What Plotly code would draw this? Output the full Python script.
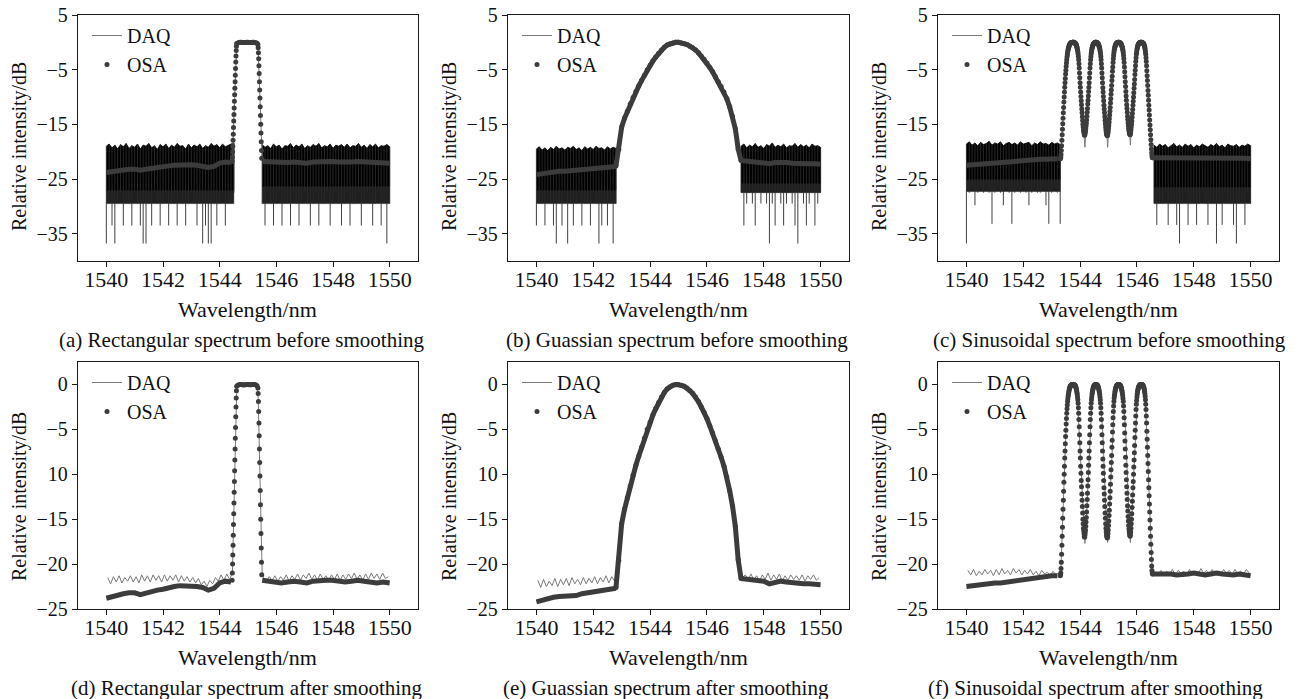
import numpy as np
import plotly.graph_objects as go

W, H = 1305, 699
FONT = "Liberation Serif, Times New Roman, serif"
OSA_COLOR = "#3c3c3c"
DAQ_COLOR = "#7a7a7a"

# ---------------- axes ----------------
X_RANGE = [1539, 1551]
X_TICKS = [1540, 1542, 1544, 1546, 1548, 1550]
TOP_Y_RANGE = [-40, 5]
TOP_Y_TICKS = [5, -5, -15, -25, -35]
TOP_Y_TEXT = ["5", "−5", "−15", "−25", "−35"]
BOT_Y_RANGE = [-25, 2.5]
BOT_Y_TICKS = [0, -5, -10, -15, -20, -25]
BOT_Y_TEXT = ["0", "−5", "10", "−15", "−20", "−25"]

CAPTIONS = [
    "(a) Rectangular spectrum before smoothing",
    "(b) Guassian spectrum before smoothing",
    "(c) Sinusoidal spectrum before smoothing",
    "(d) Rectangular spectrum after smoothing",
    "(e) Guassian spectrum after smoothing",
    "(f) Sinusoidal spectrum after smoothing",
]

# ---------------- rectangular spectrum ----------------
RECT_OSA_BASE_L_SPAN = (1540.0, 1544.4)
RECT_OSA_BASE_L = [-23.8, -23.6, -23.4, -23.3, -23.2, -23.2, -23.4, -23.2, -23.0, -22.9,
                   -22.8, -22.6, -22.5, -22.4, -22.4, -22.4, -22.5, -22.6, -22.9, -22.7,
                   -22.1, -21.9, -22.0]
RECT_OSA_EDGE_L_SPAN = (1544.44, 1544.60)
RECT_OSA_EDGE_L = [-21.8, -21.0, -20.0, -19.0, -17.9, -16.8, -15.6, -14.4, -13.2, -12.0,
                   -10.8, -9.6, -8.4, -7.2, -6.0, -4.8, -3.6, -2.5, -1.5, -0.7, -0.2]
RECT_OSA_TOP_SPAN = (1544.64, 1545.32)
RECT_OSA_TOP = [-0.1, -0.02, 0.0, 0.0, -0.03, -0.05, -0.04, -0.02, 0.0, 0.0,
                -0.02, -0.04, -0.03, 0.0, 0.0, -0.01, -0.06, -0.15]
RECT_OSA_EDGE_R_SPAN = (1545.35, 1545.485)
RECT_OSA_EDGE_R = [-0.4, -1.0, -1.9, -3.0, -4.3, -5.7, -7.2, -8.7, -10.2, -11.8,
                   -13.4, -15.0, -16.6, -18.2, -19.8, -21.2]
RECT_OSA_BASE_R_SPAN = (1545.5, 1550.0)
RECT_OSA_BASE_R = [-21.8, -21.9, -22.0, -22.1, -22.0, -21.9, -22.0, -22.1, -21.9, -21.8,
                   -21.8, -21.8, -21.9, -22.0, -21.9, -21.8, -21.9, -22.0, -22.1, -22.0, -22.1]

RECT_DAQ_CORE_X = [1544.35, 1544.45, 1544.50, 1544.55, 1544.60, 1544.65, 1545.30, 1545.36,
                   1545.41, 1545.46, 1545.50, 1545.55]
RECT_DAQ_CORE_Y = [-21.7, -21.0, -14.0, -6.0, -1.0, 0.0, 0.0, -1.5, -8.0, -16.0, -21.0, -21.5]
RECT_DAQ_SMOOTH_L_SPAN = (1540.05, 1544.35)
RECT_DAQ_SMOOTH_L = [-21.5, -22.2, -21.4, -22.0, -21.3, -22.1, -21.5, -21.9, -21.3, -22.0,
                     -21.4, -22.1, -21.2, -21.9, -21.3, -22.0, -21.2, -21.8, -21.3, -22.0,
                     -21.2, -21.9, -21.3, -21.8, -21.2, -22.0, -21.3, -21.9, -21.4, -22.0,
                     -21.5, -22.1, -21.6, -22.3, -21.9, -22.5, -21.8, -22.2, -21.5, -21.9,
                     -21.2, -21.8, -21.1, -21.7]
RECT_DAQ_SMOOTH_R_SPAN = (1545.55, 1549.95)
RECT_DAQ_SMOOTH_R = [-21.5, -21.9, -21.4, -21.8, -21.3, -21.9, -21.4, -21.8, -21.2, -21.9,
                     -21.3, -21.7, -21.1, -21.8, -21.2, -21.6, -21.0, -21.7, -21.2, -21.8,
                     -21.1, -21.7, -21.3, -21.8, -21.2, -21.7, -21.1, -21.8, -21.2, -21.7,
                     -21.1, -21.6, -21.0, -21.7, -21.2, -21.8, -21.1, -21.7, -21.0, -21.6,
                     -21.1, -21.7, -21.0, -21.6, -21.4]
# raw DAQ noise: per-sample peak and trough, plus the solid and dense-grey floors
RECT_NOISE_L_SPAN = (1540.0, 1544.5)
RECT_NOISE_L_TOP = [-19.0, -18.6, -19.3, -18.8, -19.5, -18.7, -19.1, -18.5, -19.4, -18.9,
                    -19.2, -18.6, -19.5, -18.8, -19.0, -18.5, -19.3, -18.9, -19.6, -18.7,
                    -19.1, -18.6, -19.4, -18.8, -19.2, -18.5, -19.0, -18.9, -19.5, -18.6,
                    -19.3, -18.8, -19.1, -18.6, -19.4, -18.9, -19.2, -18.5, -19.0, -18.7,
                    -19.3, -18.6, -19.1, -18.8, -18.6, -18.4]
RECT_NOISE_L_FLOOR = -27.0
RECT_NOISE_L_DENSE = -29.5
RECT_NOISE_L_DEPTH = [-36.8, -29.5, -33.5, -36.8, -29.5, -27.5, -33.5, -29.5, -29.5, -33.5,
                      -27.5, -29.5, -33.5, -36.8, -36.8, -29.5, -33.5, -27.5, -29.5, -33.5,
                      -29.5, -27.5, -33.5, -29.5, -29.5, -33.5, -27.5, -29.5, -33.5, -29.5,
                      -27.5, -29.5, -33.5, -29.5, -36.8, -33.5, -36.8, -36.8, -29.5, -33.5,
                      -29.5, -27.5, -33.5, -29.5, -29.5, -27.5]
RECT_NOISE_R_SPAN = (1545.5, 1550.0)
RECT_NOISE_R_TOP = [-18.7, -19.2, -18.9, -19.4, -18.6, -19.1, -18.8, -19.5, -18.9, -19.0,
                    -18.5, -19.3, -18.8, -19.1, -18.6, -19.4, -18.9, -19.2, -18.7, -19.0,
                    -18.5, -19.3, -18.9, -19.1, -18.6, -19.4, -18.8, -19.0, -18.7, -19.2,
                    -18.6, -19.3, -18.9, -19.0, -18.5, -19.2, -18.8, -19.4, -18.7, -19.1,
                    -18.6, -19.3, -18.9, -19.0, -18.7, -19.1]
RECT_NOISE_R_FLOOR = -26.3
RECT_NOISE_R_DENSE = -29.5
RECT_NOISE_R_DEPTH = [-29.5, -33.5, -27.5, -29.5, -33.5, -29.5, -27.5, -33.5, -29.5, -29.5,
                      -33.5, -27.5, -29.5, -33.5, -29.5, -27.5, -29.5, -33.5, -29.5, -27.5,
                      -33.5, -29.5, -29.5, -27.5, -33.5, -29.5, -27.5, -29.5, -33.5, -29.5,
                      -27.5, -33.5, -29.5, -29.5, -27.5, -33.5, -29.5, -27.5, -29.5, -33.5,
                      -29.5, -27.5, -33.5, -29.5, -36.8, -29.5]

# ---------------- gaussian spectrum ----------------
GAUSS_OSA_BASE_L_SPAN = (1540.0, 1542.8)
GAUSS_OSA_BASE_L = [-24.2, -24.0, -23.8, -23.7, -23.6, -23.6, -23.5, -23.5, -23.3, -23.2,
                    -23.1, -23.0, -22.9, -22.8, -22.7]
GAUSS_OSA_CORE_SPAN = (1542.8, 1547.2)
GAUSS_OSA_CORE = [-22.6, -19.6, -15.5, -13.9, -12.6, -11.3, -10.1, -9.0, -8.0, -7.0,
                  -6.0, -5.0, -4.2, -3.4, -2.7, -2.0, -1.4, -0.9, -0.5, -0.25,
                  -0.1, 0.0, 0.0, -0.1, -0.2, -0.4, -0.7, -1.0, -1.4, -1.9,
                  -2.5, -3.1, -3.8, -4.6, -5.4, -6.3, -7.2, -8.1, -9.1, -10.3,
                  -11.8, -13.5, -15.8, -19.5, -21.6]
GAUSS_OSA_BASE_R_SPAN = (1547.2, 1550.0)
GAUSS_OSA_BASE_R = [-21.6, -21.7, -21.8, -21.8, -21.9, -22.2, -22.0, -21.9, -22.0, -22.1,
                    -22.2, -22.2, -22.2, -22.2, -22.3]

GAUSS_DAQ_CORE_X = [1542.75, 1542.85, 1543.0, 1543.5, 1544.0, 1544.5, 1545.0, 1545.5,
                    1546.0, 1546.5, 1547.0, 1547.15, 1547.25]
GAUSS_DAQ_CORE_Y = [-21.9, -20.5, -15.2, -8.9, -4.1, -0.8, 0.0, -1.0, -3.8, -8.1, -15.6, -20.8, -21.5]
GAUSS_DAQ_SMOOTH_L_SPAN = (1540.05, 1542.75)
GAUSS_DAQ_SMOOTH_L = [-21.8, -22.6, -21.7, -22.5, -21.9, -22.4, -21.6, -22.5, -21.7, -22.3,
                      -21.6, -22.4, -21.5, -22.2, -21.7, -22.3, -21.5, -22.2, -21.6, -22.1,
                      -21.4, -22.2, -21.5, -22.0, -21.3, -22.1, -21.4, -21.9]
GAUSS_DAQ_SMOOTH_R_SPAN = (1547.25, 1549.95)
GAUSS_DAQ_SMOOTH_R = [-21.5, -21.2, -21.7, -21.1, -21.8, -21.3, -21.9, -21.2, -21.7, -21.0,
                      -21.8, -21.2, -21.7, -21.1, -21.9, -21.3, -21.8, -21.2, -21.7, -21.3,
                      -21.8, -21.2, -21.9, -21.3, -21.7, -21.2, -21.8, -21.5]
GAUSS_NOISE_L_SPAN = (1540.0, 1542.8)
GAUSS_NOISE_L_TOP = [-19.5, -19.1, -19.7, -19.3, -19.8, -19.2, -19.6, -19.0, -19.5, -19.3,
                     -19.7, -19.2, -19.4, -19.0, -19.6, -19.3, -19.8, -19.1, -19.5, -19.2,
                     -19.6, -19.0, -19.4, -19.3, -19.7, -19.1, -19.5, -19.2, -19.4]
GAUSS_NOISE_L_FLOOR = -27.0
GAUSS_NOISE_L_DENSE = -29.5
GAUSS_NOISE_L_DEPTH = [-33.5, -29.5, -29.5, -33.5, -27.5, -29.5, -33.5, -36.8, -29.5, -33.5,
                       -27.5, -36.8, -29.5, -33.5, -29.5, -27.5, -33.5, -29.5, -29.5, -33.5,
                       -27.5, -29.5, -36.8, -33.5, -29.5, -33.5, -29.5, -36.8, -29.5]
GAUSS_NOISE_R_SPAN = (1547.2, 1550.0)
GAUSS_NOISE_R_TOP = [-19.0, -18.6, -19.3, -18.8, -19.1, -18.5, -19.2, -18.9, -19.4, -18.7,
                     -19.0, -18.4, -19.2, -18.8, -19.1, -18.6, -19.3, -18.9, -19.0, -18.5,
                     -19.2, -18.7, -19.1, -18.8, -19.3, -18.6, -19.0, -18.9, -19.2]
GAUSS_NOISE_R_FLOOR = -25.8
GAUSS_NOISE_R_DENSE = -27.5
GAUSS_NOISE_R_DEPTH = [-27.5, -33.5, -29.5, -27.5, -29.5, -33.5, -27.5, -29.5, -27.5, -29.5,
                       -36.8, -29.5, -33.5, -27.5, -29.5, -33.5, -29.5, -27.5, -29.5, -33.5,
                       -36.8, -27.5, -29.5, -33.5, -29.5, -27.5, -33.5, -29.5, -27.5]

# ---------------- sinusoidal spectrum ----------------
SIN_OSA_BASE_L_SPAN = (1540.0, 1543.2)
SIN_OSA_BASE_L = [-22.5, -22.4, -22.3, -22.2, -22.2, -22.1, -22.1, -22.0, -21.9, -21.8,
                  -21.7, -21.6, -21.5, -21.4, -21.4, -21.3, -21.3]
SIN_OSA_CORE_SPAN = (1543.30, 1546.56)
SIN_OSA_CORE = [
    # outer rise to lobe 1
    -21.3, -21.2, -21.0, -20.5, -19.8, -18.9, -17.9, -16.9, -15.9, -14.9,
    -13.9, -12.9, -11.9, -10.9, -10.0, -9.1, -8.2, -7.4, -6.6, -5.8,
    -5.1, -4.4, -3.8, -3.2, -2.7, -2.3, -1.9, -1.6, -1.3, -1.1,
    -0.9, -0.7, -0.55, -0.42, -0.32, -0.24, -0.17, -0.12, -0.08, -0.05,
    -0.03, -0.02, -0.01, 0.0, 0.0, 0.0, 0.0,
    # lobe 1 fall
    0.0, 0.0, -0.02, -0.05, -0.07, -0.1, -0.15, -0.2, -0.3, -0.4,
    -0.55, -0.7, -0.9, -1.1, -1.4, -1.7, -2.1, -2.6, -3.2, -3.9,
    -4.7, -5.6, -6.5, -7.4, -8.2, -9.1, -9.9, -10.7, -11.4, -12.2,
    -12.9, -13.6, -14.3, -15.0, -15.5, -16.0, -16.3, -16.6, -16.9, -17.0,
    # lobe 2 rise
    -16.8, -16.5, -16.2, -15.8, -15.3, -14.8, -14.2, -13.5, -12.8, -12.1,
    -11.3, -10.6, -9.8, -9.0, -8.2, -7.4, -6.5, -5.6, -4.7, -3.9,
    -3.2, -2.6, -2.1, -1.7, -1.4, -1.1, -0.9, -0.7, -0.55, -0.4,
    -0.3, -0.2, -0.15, -0.1, -0.07, -0.05, -0.02, 0.0, 0.0, 0.0,
    # lobe 2 fall
    0.0, -0.02, -0.04, -0.07, -0.1, -0.15, -0.2, -0.3, -0.4, -0.55,
    -0.7, -0.9, -1.1, -1.4, -1.7, -2.1, -2.6, -3.2, -3.9, -4.7,
    -5.6, -6.5, -7.4, -8.3, -9.1, -9.9, -10.7, -11.5, -12.2, -12.9,
    -13.6, -14.3, -14.9, -15.5, -16.0, -16.4, -16.7, -16.9, -17.0, -17.1,
    # lobe 3 rise
    -16.9, -16.6, -16.2, -15.7, -15.2, -14.6, -14.0, -13.3, -12.6, -11.9,
    -11.1, -10.3, -9.5, -8.7, -7.9, -7.0, -6.2, -5.3, -4.5, -3.7,
    -3.0, -2.4, -1.9, -1.5, -1.2, -0.95, -0.75, -0.6, -0.45, -0.35,
    -0.25, -0.18, -0.12, -0.08, -0.05, -0.03, -0.01, 0.0, 0.0, 0.0,
    # lobe 3 fall
    0.0, -0.01, -0.03, -0.06, -0.1, -0.14, -0.2, -0.28, -0.38, -0.5,
    -0.65, -0.82, -1.0, -1.25, -1.55, -1.9, -2.4, -3.0, -3.7, -4.5,
    -5.4, -6.3, -7.2, -8.1, -9.0, -9.8, -10.6, -11.4, -12.1, -12.8,
    -13.5, -14.1, -14.7, -15.2, -15.7, -16.1, -16.4, -16.6, -16.8, -16.9,
    # lobe 4 rise
    -16.7, -16.4, -16.0, -15.5, -15.0, -14.4, -13.7, -13.0, -12.3, -11.5,
    -10.8, -10.0, -9.2, -8.4, -7.6, -6.8, -5.9, -5.1, -4.3, -3.5,
    -2.8, -2.2, -1.8, -1.4, -1.1, -0.85, -0.65, -0.5, -0.38, -0.28,
    -0.2, -0.14, -0.09, -0.05, -0.03, -0.01, 0.0, 0.0, 0.0, 0.0,
    # lobe 4 outer fall
    0.0, -0.01, -0.03, -0.06, -0.1, -0.15, -0.22, -0.3, -0.42, -0.58,
    -0.78, -1.0, -1.3, -1.7, -2.2, -2.8, -3.5, -4.3, -5.2, -6.1,
    -7.0, -7.9, -8.8, -9.7, -10.6, -11.5, -12.4, -13.3, -14.2, -15.1,
    -16.0, -16.9, -17.8, -18.7, -19.5, -20.2, -20.7, -21.0, -21.1, -21.1,
]
SIN_OSA_BASE_R_SPAN = (1546.6, 1550.0)
SIN_OSA_BASE_R = [-21.1, -21.1, -21.0, -21.1, -21.2, -21.2, -21.1, -21.0, -21.1, -21.2,
                  -21.1, -21.0, -21.1, -21.2, -21.2, -21.1, -21.2, -21.3]

SIN_DAQ_CORE_X = [1543.25, 1543.32, 1543.36, 1543.44, 1543.52, 1543.62, 1543.76, 1543.90,
                  1544.00, 1544.08, 1544.14, 1544.17, 1544.20, 1544.26, 1544.36, 1544.42,
                  1544.56, 1544.70, 1544.80, 1544.88, 1544.94, 1544.97, 1545.00, 1545.06,
                  1545.16, 1545.22, 1545.36, 1545.50, 1545.60, 1545.68, 1545.74, 1545.77,
                  1545.80, 1545.86, 1545.96, 1546.02, 1546.16, 1546.30, 1546.40, 1546.48,
                  1546.54, 1546.65]
SIN_DAQ_CORE_Y_RAW = [-21.2, -21.0, -17.5, -10.0, -3.8, -0.6, 0.0, -1.1, -7.4, -13.6,
                      -17.0, -19.2, -16.5, -12.4, -4.5, -1.6, 0.0, -1.1, -5.4, -12.2,
                      -16.8, -19.2, -16.6, -12.1, -4.1, -1.3, 0.0, -1.0, -4.9, -12.1,
                      -16.6, -18.8, -16.2, -12.0, -4.1, -1.3, 0.0, -2.1, -9.7, -16.9,
                      -21.0, -21.0]
SIN_DAQ_CORE_Y_SMOOTH = [-21.2, -21.0, -17.5, -10.0, -3.8, -0.6, 0.0, -1.1, -7.4, -13.6,
                         -16.9, -17.7, -16.5, -12.4, -4.5, -1.6, 0.0, -1.1, -5.4, -12.2,
                         -16.7, -17.6, -16.6, -12.1, -4.1, -1.3, 0.0, -1.0, -4.9, -12.1,
                         -16.5, -17.6, -16.2, -12.0, -4.1, -1.3, 0.0, -2.1, -9.7, -16.9,
                         -21.0, -21.0]
SIN_DAQ_SMOOTH_L_SPAN = (1540.05, 1543.25)
SIN_DAQ_SMOOTH_L = [-20.7, -21.2, -20.6, -21.3, -20.8, -21.2, -20.6, -21.1, -20.7, -21.3,
                    -20.6, -21.2, -20.5, -21.1, -20.7, -21.2, -20.5, -21.0, -20.6, -21.2,
                    -20.7, -21.1, -20.6, -21.2, -20.8, -21.3, -20.7, -21.1, -20.9, -21.3,
                    -20.8, -21.2, -21.0]
SIN_DAQ_SMOOTH_R_SPAN = (1546.65, 1549.95)
SIN_DAQ_SMOOTH_R = [-20.9, -21.1, -20.7, -21.2, -20.8, -21.1, -20.6, -21.2, -20.7, -21.0,
                    -20.8, -21.2, -20.6, -21.1, -20.8, -21.2, -20.5, -21.0, -20.7, -21.2,
                    -20.6, -21.1, -20.8, -21.2, -20.6, -21.0, -20.7, -21.2, -20.6, -21.1,
                    -20.8, -21.1, -20.6, -21.0]
SIN_NOISE_L_SPAN = (1540.0, 1543.3)
SIN_NOISE_L_TOP = [-18.6, -18.2, -18.8, -18.4, -18.9, -18.3, -18.7, -18.5, -18.1, -18.8,
                   -18.4, -18.6, -18.2, -18.9, -18.5, -18.3, -18.7, -18.4, -18.8, -18.2,
                   -18.6, -18.5, -18.3, -18.9, -18.4, -18.7, -18.2, -18.6, -18.5, -18.8,
                   -18.3, -18.6, -18.4, -18.7]
SIN_NOISE_L_FLOOR = -25.0
SIN_NOISE_L_DENSE = -27.3
SIN_NOISE_L_DEPTH = [-36.8, -27.5, -26.5, -29.8, -27.5, -26.5, -27.5, -26.0, -27.5, -33.2,
                     -27.5, -26.5, -27.5, -29.8, -26.5, -27.5, -33.2, -27.5, -26.5, -27.5,
                     -26.0, -27.5, -29.8, -27.5, -26.5, -27.5, -27.5, -26.5, -29.8, -33.2,
                     -27.5, -26.5, -27.5, -33.2]
SIN_NOISE_R_SPAN = (1546.6, 1550.0)
SIN_NOISE_R_TOP = [-18.8, -19.2, -18.6, -19.0, -18.7, -19.3, -18.9, -18.5, -19.1, -18.8,
                   -19.2, -18.6, -19.0, -18.7, -19.3, -18.8, -19.1, -18.6, -18.9, -19.2,
                   -18.7, -19.0, -18.5, -19.1, -18.8, -19.3, -18.6, -18.9, -19.0, -18.7,
                   -19.2, -18.8, -19.0, -18.6, -18.9]
SIN_NOISE_R_FLOOR = -26.5
SIN_NOISE_R_DENSE = -29.5
SIN_NOISE_R_DEPTH = [-29.5, -33.4, -29.5, -29.5, -27.5, -33.4, -29.5, -29.5, -33.4, -36.8,
                     -29.5, -27.5, -33.4, -29.5, -29.5, -33.4, -29.5, -27.5, -29.5, -33.4,
                     -29.5, -29.5, -36.8, -29.5, -33.4, -27.5, -29.5, -29.5, -33.4, -36.8,
                     -29.5, -29.5, -33.4, -27.5, -29.5]


def on_span(span, values):
    return np.linspace(span[0], span[1], len(values))


def joined(segments):
    # segments: list of (span, values) -> x, y with gaps between pieces
    xs, ys = [], []
    for span, vals in segments:
        if xs:
            xs.append(None)
            ys.append(None)
        xs += list(on_span(span, vals))
        ys += list(vals)
    return xs, ys


rect = dict(
    osa_lines=[(RECT_OSA_BASE_L_SPAN, RECT_OSA_BASE_L), (RECT_OSA_BASE_R_SPAN, RECT_OSA_BASE_R)],
    osa_dots=[(RECT_OSA_EDGE_L_SPAN, RECT_OSA_EDGE_L), (RECT_OSA_TOP_SPAN, RECT_OSA_TOP),
              (RECT_OSA_EDGE_R_SPAN, RECT_OSA_EDGE_R)],
    core_x=RECT_DAQ_CORE_X, core_raw=RECT_DAQ_CORE_Y, core_smooth=RECT_DAQ_CORE_Y,
    smooth_l=(RECT_DAQ_SMOOTH_L_SPAN, RECT_DAQ_SMOOTH_L),
    smooth_r=(RECT_DAQ_SMOOTH_R_SPAN, RECT_DAQ_SMOOTH_R),
    noise=[(RECT_NOISE_L_SPAN, RECT_NOISE_L_TOP, RECT_NOISE_L_FLOOR, RECT_NOISE_L_DENSE, RECT_NOISE_L_DEPTH),
           (RECT_NOISE_R_SPAN, RECT_NOISE_R_TOP, RECT_NOISE_R_FLOOR, RECT_NOISE_R_DENSE, RECT_NOISE_R_DEPTH)],
)
gauss = dict(
    osa_lines=[(GAUSS_OSA_BASE_L_SPAN, GAUSS_OSA_BASE_L), (GAUSS_OSA_CORE_SPAN, GAUSS_OSA_CORE),
               (GAUSS_OSA_BASE_R_SPAN, GAUSS_OSA_BASE_R)],
    osa_dots=[(GAUSS_OSA_CORE_SPAN, GAUSS_OSA_CORE)],
    core_x=GAUSS_DAQ_CORE_X, core_raw=GAUSS_DAQ_CORE_Y, core_smooth=GAUSS_DAQ_CORE_Y,
    smooth_l=(GAUSS_DAQ_SMOOTH_L_SPAN, GAUSS_DAQ_SMOOTH_L),
    smooth_r=(GAUSS_DAQ_SMOOTH_R_SPAN, GAUSS_DAQ_SMOOTH_R),
    noise=[(GAUSS_NOISE_L_SPAN, GAUSS_NOISE_L_TOP, GAUSS_NOISE_L_FLOOR, GAUSS_NOISE_L_DENSE, GAUSS_NOISE_L_DEPTH),
           (GAUSS_NOISE_R_SPAN, GAUSS_NOISE_R_TOP, GAUSS_NOISE_R_FLOOR, GAUSS_NOISE_R_DENSE, GAUSS_NOISE_R_DEPTH)],
)
sinus = dict(
    osa_lines=[(SIN_OSA_BASE_L_SPAN, SIN_OSA_BASE_L), (SIN_OSA_BASE_R_SPAN, SIN_OSA_BASE_R)],
    osa_dots=[(SIN_OSA_CORE_SPAN, SIN_OSA_CORE)],
    core_x=SIN_DAQ_CORE_X, core_raw=SIN_DAQ_CORE_Y_RAW, core_smooth=SIN_DAQ_CORE_Y_SMOOTH,
    smooth_l=(SIN_DAQ_SMOOTH_L_SPAN, SIN_DAQ_SMOOTH_L),
    smooth_r=(SIN_DAQ_SMOOTH_R_SPAN, SIN_DAQ_SMOOTH_R),
    noise=[(SIN_NOISE_L_SPAN, SIN_NOISE_L_TOP, SIN_NOISE_L_FLOOR, SIN_NOISE_L_DENSE, SIN_NOISE_L_DEPTH),
           (SIN_NOISE_R_SPAN, SIN_NOISE_R_TOP, SIN_NOISE_R_FLOOR, SIN_NOISE_R_DENSE, SIN_NOISE_R_DEPTH)],
)

# plot boxes in pixels: x0, x1, y0, y1 (top-left origin)
BOXES = [(78, 418, 15, 261), (508, 849, 15, 261), (938, 1279, 15, 261),
         (78, 418, 362, 609), (508, 849, 362, 609), (938, 1279, 362, 609)]
CAPTION_POS = [(242, 340), (677, 340), (1109, 340), (247, 688), (666, 688), (1095, 688)]
PANELS = [(rect, False), (gauss, False), (sinus, False), (rect, True), (gauss, True), (sinus, True)]

fig = go.Figure()
annotations = []
ink = "#111111"

for i, ((spec, smoothed), box) in enumerate(zip(PANELS, BOXES)):
    n = i + 1
    sfx = "" if n == 1 else str(n)
    xa, ya, lg = "x" + sfx, "y" + sfx, "legend" + sfx
    common = dict(xaxis=xa, yaxis=ya, legend=lg, hoverinfo="skip")

    if not smoothed:
        for span, tops, floor, dense, depths in spec["noise"]:
            tx = on_span(span, tops)
            # dense zone of many short dips
            fig.add_trace(go.Scatter(
                x=[span[0], span[1], span[1], span[0]], y=[floor, floor, dense, dense],
                fill="toself", fillcolor="#1f1f1f", mode="lines",
                line=dict(color="#1f1f1f", width=0.5), showlegend=False, **common))
            # solid black band
            fig.add_trace(go.Scatter(
                x=np.concatenate([tx, tx[::-1]]),
                y=np.concatenate([tops, np.full(len(tops), floor)]),
                fill="toself", fillcolor="black", mode="lines",
                line=dict(color="black", width=0.8), showlegend=False, **common))
            sx, sy = [], []
            for x, t, d in zip(on_span(span, depths), tops, depths):
                sx += [x, x, None]
                sy += [t, d, None]
            fig.add_trace(go.Scatter(x=sx, y=sy, mode="lines",
                                     line=dict(color="#2a2a2a", width=0.9),
                                     showlegend=False, **common))
        daq_x = list(spec["core_x"])
        daq_y = list(spec["core_raw"])
    else:
        (sl_span, sl), (sr_span, sr) = spec["smooth_l"], spec["smooth_r"]
        daq_x = list(on_span(sl_span, sl)) + list(spec["core_x"]) + list(on_span(sr_span, sr))
        daq_y = list(sl) + list(spec["core_smooth"]) + list(sr)

    fig.add_trace(go.Scatter(x=daq_x, y=daq_y, mode="lines", name="DAQ",
                             line=dict(color=DAQ_COLOR, width=1), **common))

    lx, ly = joined(spec["osa_lines"])
    fig.add_trace(go.Scatter(x=lx, y=ly, mode="lines", line=dict(color=OSA_COLOR, width=5),
                             showlegend=False, **common))
    dx, dy = joined(spec["osa_dots"])
    fig.add_trace(go.Scatter(x=dx, y=dy, mode="markers", name="OSA",
                             marker=dict(color=OSA_COLOR, size=5), **common))

    x0, x1, y0, y1 = box
    ax_style = dict(showline=True, mirror=True, linecolor="#1a1a1a", linewidth=1.3,
                    ticks="outside", ticklen=5, tickwidth=1.2, tickcolor="#1a1a1a",
                    showgrid=False, zeroline=False, fixedrange=True, automargin=False)
    fig.layout["xaxis" + sfx] = dict(domain=[x0 / W, x1 / W], anchor=ya, range=X_RANGE,
                                     tickvals=X_TICKS, ticklabelstandoff=-7,
                                     tickfont=dict(family=FONT, size=22, color=ink), **ax_style)
    if smoothed:
        yr, yt, ytt = BOT_Y_RANGE, BOT_Y_TICKS, BOT_Y_TEXT
    else:
        yr, yt, ytt = TOP_Y_RANGE, TOP_Y_TICKS, TOP_Y_TEXT
    fig.layout["yaxis" + sfx] = dict(domain=[1 - y1 / H, 1 - y0 / H], anchor=xa, range=yr,
                                     tickvals=yt, ticktext=ytt,
                                     tickfont=dict(family=FONT, size=20, color=ink), **ax_style)
    fig.layout[lg] = dict(x=(x0 + 9) / W, y=1 - (y0 + 1) / H, xanchor="left", yanchor="top",
                          bgcolor="rgba(0,0,0,0)", font=dict(family=FONT, size=20, color=ink),
                          tracegroupgap=0)

    ycen = 147 if y0 < 100 else 497
    annotations.append(dict(text="Relative intensity/dB", textangle=-90, x=(x0 - 59) / W,
                            y=1 - ycen / H, xref="paper", yref="paper", showarrow=False,
                            xanchor="center", yanchor="middle",
                            font=dict(family=FONT, size=20, color=ink)))
    annotations.append(dict(text="Wavelength/nm", x=(x0 + x1) / 2 / W, y=1 - (y1 + 48) / H,
                            xref="paper", yref="paper", showarrow=False,
                            xanchor="center", yanchor="middle",
                            font=dict(family=FONT, size=22, color=ink)))
    cx, cy = CAPTION_POS[i]
    annotations.append(dict(text=CAPTIONS[i], x=cx / W, y=1 - cy / H, xref="paper", yref="paper",
                            showarrow=False, xanchor="center", yanchor="middle",
                            font=dict(family=FONT, size=21, color=ink)))

fig.update_layout(
    width=W, height=H, margin=dict(l=0, r=0, t=0, b=0, autoexpand=False),
    paper_bgcolor="white", plot_bgcolor="white",
    annotations=annotations, hovermode=False,
)
fig.write_html("out.html", config={"displayModeBar": False},
               post_script="document.body.style.margin='0px';document.body.style.overflow='hidden';")
